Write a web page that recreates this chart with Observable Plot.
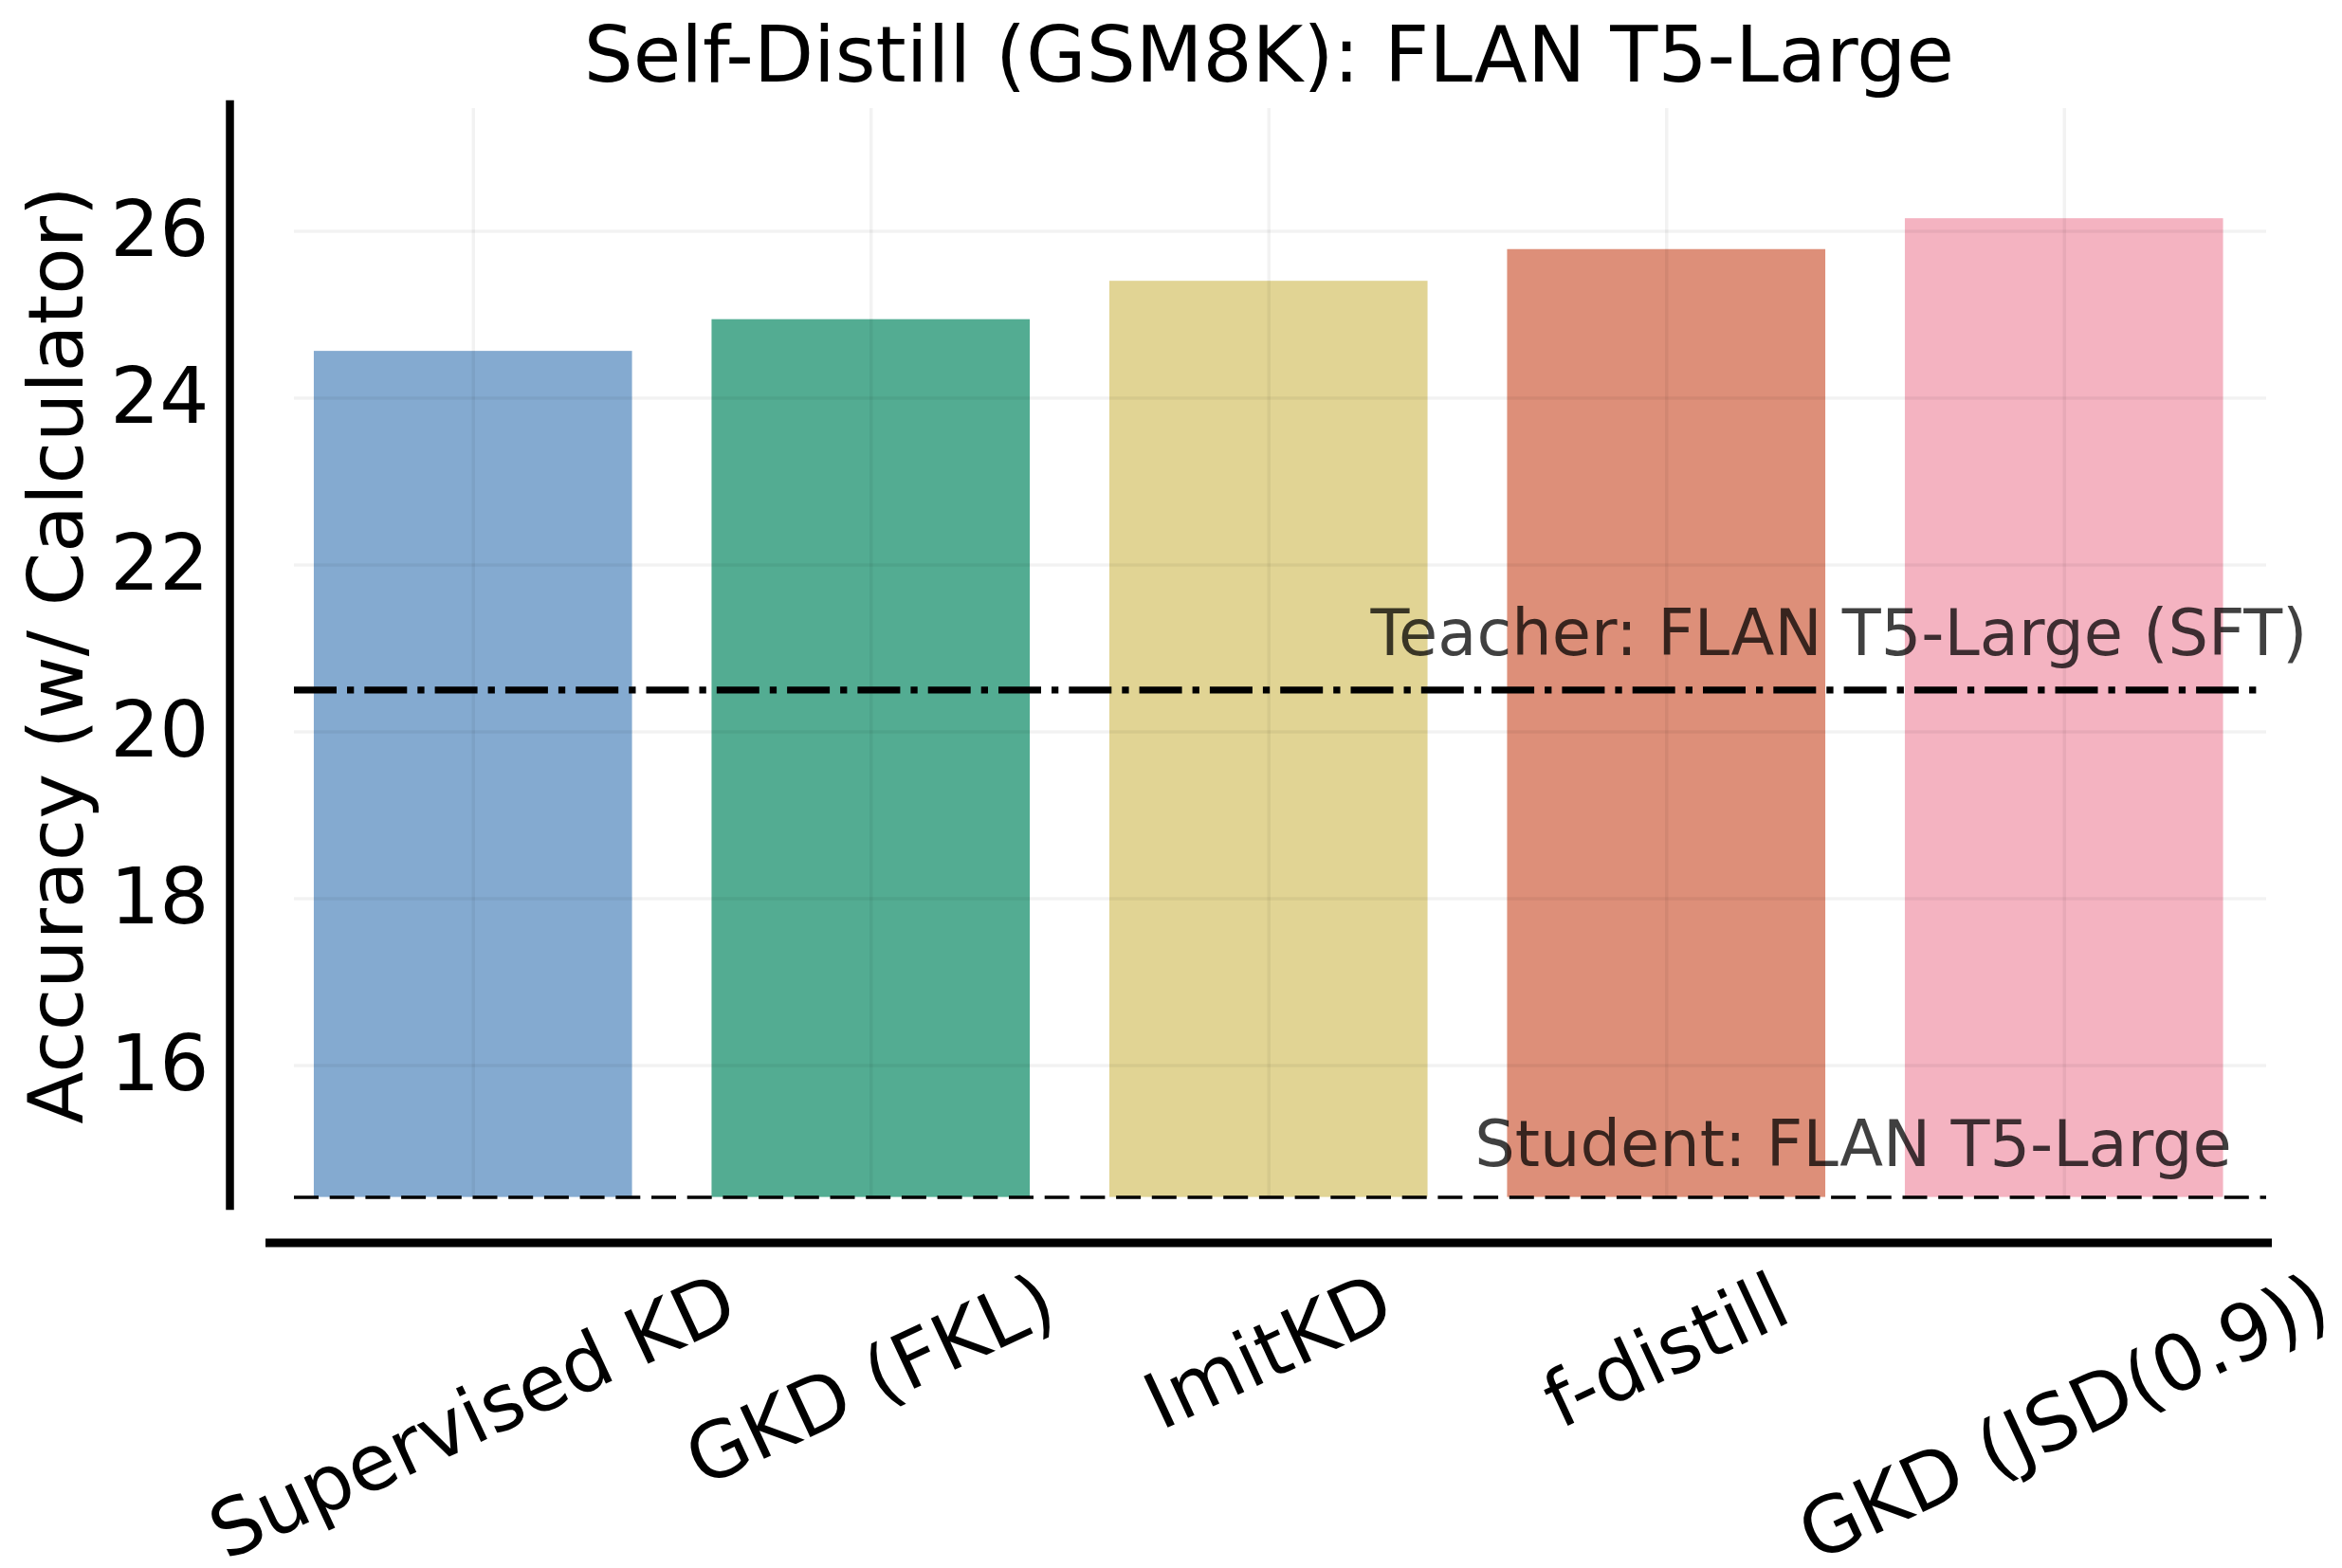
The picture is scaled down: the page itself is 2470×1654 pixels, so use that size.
<!DOCTYPE html>
<html>
<head>
<meta charset="utf-8">
<script src="https://cdn.jsdelivr.net/npm/d3@7"></script>
<script src="https://cdn.jsdelivr.net/npm/@observablehq/plot@0.6"></script>
<style>
  html, body { margin: 0; padding: 0; background: #fff; }
  #chart svg { display: block; }
</style>
</head>
<body>
<div id="chart"></div>
<script>
// ---- data ----
const methods = ["Supervised KD", "GKD (FKL)", "ImitKD", "f-distill", "GKD (JSD(0.9))"];
const accuracy = [24.56, 24.94, 25.40, 25.78, 26.15];
const barColors = ["#84AAD0", "#53AC92", "#E1D494", "#DD8F79", "#F4B3C1"];
const teacherAccuracy = 20.5;
const studentAccuracy = 14.42;
const yTicks = [16, 18, 20, 22, 24, 26];
const yDomain = [14.37, 27.47];
const titleText = "Self-Distill (GSM8K): FLAN T5-Large";
const yLabelText = "Accuracy (w/ Calculator)";
const teacherLabel = "Teacher: FLAN T5-Large (SFT)";
const studentLabel = "Student: FLAN T5-Large";

const data = methods.map((m, i) => ({method: m, acc: accuracy[i]}));

// ---- layout ----
const W = 2470, H = 1654;
const mt = 114, mb = 387, ml = 289, mr = 83.5;
const fontFamily = "DejaVu Sans";
const tickFont = 82;
const ang = 25 * Math.PI / 180;

const ctx = document.createElement("canvas").getContext("2d");
ctx.font = `${tickFont}px "${fontFamily}"`;

const xTickMarks = methods.map(m => {
  const w = ctx.measureText(m).width;
  const h = w * Math.sin(ang) + 0.98 * tickFont * Math.cos(ang);
  return Plot.text([m], {
    x: d => d, frameAnchor: "bottom", dy: 65 + h / 2, rotate: -25,
    textAnchor: "middle", lineAnchor: "middle", fontSize: tickFont, fill: "black"
  });
});

const gridStyle = {stroke: "black", strokeOpacity: 0.05, strokeWidth: 3.5};

const chart = Plot.plot({
  width: W,
  height: H,
  marginTop: mt,
  marginBottom: mb,
  marginLeft: ml,
  marginRight: mr,
  style: {fontFamily: fontFamily, background: "white", color: "black", overflow: "visible"},
  x: {domain: methods, paddingInner: 0.2, paddingOuter: 0.1, round: false, axis: null},
  y: {domain: yDomain, axis: null},
  color: {domain: methods, range: barColors},
  marks: [
    Plot.barY(data, {x: "method", y1: studentAccuracy, y2: "acc", fill: "method"}),
    Plot.ruleY(yTicks, {...gridStyle, insetLeft: 21, insetRight: -3.5}),
    Plot.ruleX(methods, {x: d => d, ...gridStyle, insetBottom: 5}),
    Plot.ruleY([teacherAccuracy], {stroke: "black", strokeWidth: 7.3, strokeDasharray: "45,11,7.3,11", insetLeft: 21, insetRight: -3.5}),
    Plot.ruleY([studentAccuracy], {stroke: "black", strokeWidth: 3.5, strokeDasharray: "26,11.7", insetLeft: 21, insetRight: -3.5}),
    Plot.text([teacherAccuracy], {y: d => d, text: () => teacherLabel, frameAnchor: "right", dx: -447.5, dy: -36.6,
      textAnchor: "middle", lineAnchor: "bottom", fontSize: 67, fill: "black", fillOpacity: 0.75}),
    Plot.text([studentAccuracy], {y: d => d, text: () => studentLabel, frameAnchor: "right", dx: -432.5, dy: -33.5,
      textAnchor: "middle", lineAnchor: "bottom", fontSize: 67, fill: "black", fillOpacity: 0.75}),
    Plot.axisY(yTicks, {tickSize: 0, tickPadding: 69, tickFormat: d => String(d), fontSize: tickFont, label: null, fill: "black"}),
    Plot.frame({anchor: "left", insetLeft: -47, insetTop: -4.5, insetBottom: -4.5, stroke: "black", strokeWidth: 8.5}),
    Plot.frame({anchor: "bottom", insetBottom: -43.5, insetLeft: -5, insetRight: -4.5, stroke: "black", strokeWidth: 9}),
    ...xTickMarks,
    Plot.text([yLabelText], {frameAnchor: "left", rotate: -90, dx: -228, textAnchor: "middle", lineAnchor: "middle", fontSize: 81, fill: "black"}),
    Plot.text([titleText], {frameAnchor: "top", dy: -29, textAnchor: "middle", lineAnchor: "bottom", fontSize: 82, fill: "black"})
  ]
});

document.getElementById("chart").appendChild(chart);
</script>
</body>
</html>
